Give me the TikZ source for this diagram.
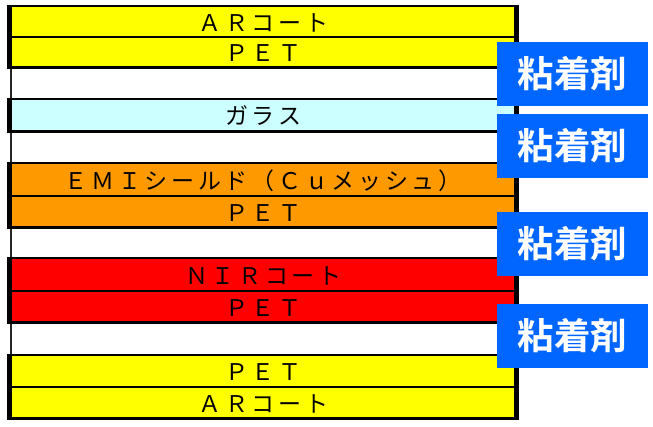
\documentclass[tikz,border=0pt]{standalone}
\usepackage{fontspec}
\newfontfamily\jp[LetterSpace=16]{Noto Sans CJK JP}
\newfontfamily\jpb{Noto Sans CJK JP Bold}
\definecolor{lyellow}{HTML}{FFFF00}
\definecolor{lcyan}{HTML}{CCFFFF}
\definecolor{lorange}{HTML}{FF9900}
\definecolor{lred}{HTML}{FF0000}
\definecolor{lblue}{HTML}{0066FF}
\begin{document}
\begin{tikzpicture}[x=1pt,y=-1pt,
  lay/.style={rectangle, inner sep=0pt, minimum width=507pt, anchor=north west,
    font=\jp\fontsize{23}{23}\selectfont, text height=19pt, text depth=0pt},
  frame/.style={draw=black, line width=2.6pt},
  sep/.style={draw=black, line width=2pt},
  side/.style={draw=black, line width=5pt},
  thinside/.style={draw=black!85, line width=2pt},
  glue/.style={rectangle, fill=lblue, text=white, minimum width=151pt, minimum height=64pt,
    inner sep=0pt, font=\jpb\fontsize{36.5}{36.5}\selectfont}]
\useasboundingbox (0,0) rectangle (653,426);
\fill[white] (0,0) rectangle (653,426);
% layers
\node[lay, fill=lyellow, minimum height=31pt] (ar1) at (9.5,6) {ＡＲコート};
\node[lay, fill=lyellow, minimum height=30pt] (pet1) at (9.5,37) {ＰＥＴ};
\node[lay, fill=white, minimum height=32pt] (w1) at (9.5,67) {};
\node[lay, fill=lcyan, minimum height=32pt] (gl) at (9.5,99) {ガラス};
\node[lay, fill=white, minimum height=32pt] (w2) at (9.5,131) {};
\node[lay, fill=lorange, minimum height=33pt] (emi) at (9.5,163) {ＥＭＩシールド（Ｃｕメッシュ）};
\node[lay, fill=lorange, minimum height=31pt] (pet2) at (9.5,196) {ＰＥＴ};
\node[lay, fill=white, minimum height=31pt] (w3) at (9.5,227) {};
\node[lay, fill=lred, minimum height=33pt] (nir) at (9.5,258) {ＮＩＲコート};
\node[lay, fill=lred, minimum height=31pt] (pet3) at (9.5,291) {ＰＥＴ};
\node[lay, fill=white, minimum height=33pt] (w4) at (9.5,322) {};
\node[lay, fill=lyellow, minimum height=32pt] (pet4) at (9.5,355) {ＰＥＴ};
\node[lay, fill=lyellow, minimum height=31pt] (ar2) at (9.5,387) {ＡＲコート};
% white layer left edges
\foreach \w in {w1,w2,w3,w4}{
  \draw[thinside] ([xshift=1.5pt]\w.north west) -- ([xshift=1.5pt]\w.south west);
}
% group frames
\foreach \a/\b in {ar1/pet1, gl/gl, emi/pet2, nir/pet3, pet4/ar2}{
  \draw[frame] (\a.north west) -- (\a.north east);
  \draw[frame] (\b.south west) -- (\b.south east);
  \draw[side] ([yshift=1.3pt]\a.north west) -- ([yshift=-1.3pt]\b.south west);
  \draw[side] ([yshift=1.3pt]\a.north east) -- ([yshift=-1.3pt]\b.south east);
}
\foreach \a in {ar1, emi, nir, pet4}{
  \draw[sep] (\a.south west) -- (\a.south east);
}
% adhesive labels
\node[glue] (g1) at (572.5,74) {粘着剤};
\node[glue] (g2) at (572.5,146) {粘着剤};
\node[glue] (g3) at (572.5,243.5) {粘着剤};
\node[glue] (g4) at (572.5,335.5) {粘着剤};
\end{tikzpicture}
\end{document}
